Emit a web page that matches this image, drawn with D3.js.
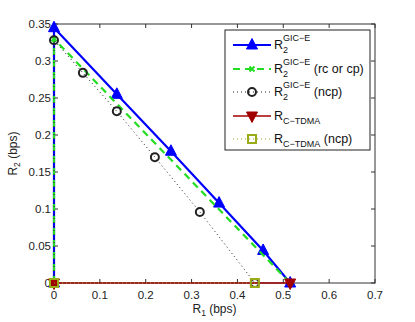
<!DOCTYPE html>
<html>
<head>
<meta charset="utf-8">
<script src="https://cdn.jsdelivr.net/npm/d3@7"></script>
<style>
  body { margin: 0; background: #fff; }
  svg text { font-family: "Liberation Sans", Arial, sans-serif; }
</style>
</head>
<body>
<div class="chart"></div>
<script>
// rate region curves
const xTicks = [0, 0.1, 0.2, 0.3, 0.4, 0.5, 0.6, 0.7];
const yTicks = [0, 0.05, 0.1, 0.15, 0.2, 0.25, 0.3, 0.35];

const gicR1 = [0, 0, 0.137, 0.255, 0.36, 0.456, 0.515];
const gicR2 = [0, 0.345, 0.255, 0.178, 0.108, 0.044, 0];

const rcR1 = [0, 0, 0.515];
const rcR2 = [0, 0.33, 0];

const ncpR1 = [0, 0, 0.063, 0.137, 0.22, 0.318, 0.438];
const ncpR2 = [0, 0.328, 0.284, 0.232, 0.17, 0.096, 0];

const tdmaR1 = [0, 0.515];
const tdmaR2 = [0, 0];

const tdmaNcpR1 = [0, 0.438];
const tdmaNcpR2 = [0, 0];

const w = 415, h = 322;
const margin = { left: 54, right: 40, top: 24, bottom: 39 };

const svg = d3.select(".chart").append("svg").attr("width", w).attr("height", h);

const xScale = d3.scaleLinear().domain([0, 0.7]).range([margin.left, w - margin.right]);
const yScale = d3.scaleLinear().domain([0, 0.35]).range([h - margin.bottom, margin.top]);

const zip = (a, b) => a.map((v, i) => [v, b[i]]);
const line = d3.line().x(d => xScale(d[0])).y(d => yScale(d[1]));

// marker drawing
function marker(g, type, x, y, color) {
  if (type === "tri") {
    g.append("path").attr("d", `M${x},${y - 6.5}L${x + 5.5},${y + 4}L${x - 5.5},${y + 4}Z`)
      .attr("fill", color).attr("stroke", color).attr("stroke-width", 1);
  } else if (type === "triDown") {
    g.append("path").attr("d", `M${x},${y + 6.5}L${x + 5.5},${y - 4}L${x - 5.5},${y - 4}Z`)
      .attr("fill", color).attr("stroke", color).attr("stroke-width", 1);
  } else if (type === "circle") {
    g.append("circle").attr("cx", x).attr("cy", y).attr("r", 4)
      .attr("fill", "none").attr("stroke", color).attr("stroke-width", 2);
  } else if (type === "square") {
    g.append("rect").attr("x", x - 4).attr("y", y - 4).attr("width", 8).attr("height", 8)
      .attr("fill", "none").attr("stroke", color).attr("stroke-width", 2);
  } else if (type === "x") {
    g.append("path").attr("d", `M${x - 2.5},${y - 2.5}L${x + 2.5},${y + 2.5}M${x - 2.5},${y + 2.5}L${x + 2.5},${y - 2.5}`)
      .attr("stroke", color).attr("stroke-width", 2);
  }
}

const series = [
  { r1: gicR1, r2: gicR2, color: "#0000ff", width: 2.2, dash: null, mk: "tri" },
  { r1: rcR1, r2: rcR2, color: "#22dd22", width: 2.2, dash: "7,5", mk: "x" },
  { r1: ncpR1, r2: ncpR2, color: "#222222", width: 1, dash: "1,3", mk: "circle" },
  { r1: tdmaR1, r2: tdmaR2, color: "#a00000", width: 1.6, dash: null, mk: "triDown" },
  { r1: tdmaNcpR1, r2: tdmaNcpR2, color: "#9aab18", width: 1, dash: "1,3", mk: "square" }
];

// axis box + ticks
const axisColor = "#333";
const tickLen = 4;
const bx0 = xScale(0), bx1 = xScale(0.7), by0 = yScale(0), by1 = yScale(0.35);

svg.append("rect").attr("x", bx0).attr("y", by1).attr("width", bx1 - bx0).attr("height", by0 - by1)
  .attr("fill", "none").attr("stroke", axisColor).attr("stroke-width", 1);

xTicks.forEach(t => {
  const x = xScale(t);
  svg.append("line").attr("x1", x).attr("x2", x).attr("y1", by0).attr("y2", by0 - tickLen).attr("stroke", axisColor);
  svg.append("line").attr("x1", x).attr("x2", x).attr("y1", by1).attr("y2", by1 + tickLen).attr("stroke", axisColor);
  svg.append("text").attr("x", x).attr("y", by0 + 16).attr("text-anchor", "middle")
    .attr("font-size", 11.5).attr("fill", "#222").text(t === 0 ? "0" : d3.format(".1f")(t));
});
yTicks.forEach(t => {
  const y = yScale(t);
  svg.append("line").attr("x1", bx0).attr("x2", bx0 + tickLen).attr("y1", y).attr("y2", y).attr("stroke", axisColor);
  svg.append("line").attr("x1", bx1).attr("x2", bx1 - tickLen).attr("y1", y).attr("y2", y).attr("stroke", axisColor);
  svg.append("text").attr("x", bx0 - 3).attr("y", y + 4).attr("text-anchor", "end")
    .attr("font-size", 11.5).attr("fill", "#222").text(t === 0 ? "0" : String(t));
});

// curves
const plot = svg.append("g");
series.forEach(s => {
  const pts = zip(s.r1, s.r2);
  plot.append("path").attr("d", line(pts)).attr("fill", "none")
    .attr("stroke", s.color).attr("stroke-width", s.width)
    .attr("stroke-dasharray", s.dash);
  pts.forEach(p => marker(plot, s.mk, xScale(p[0]), yScale(p[1]), s.color));
});

// axis labels
const xl = svg.append("text").attr("x", (bx0 + bx1) / 2).attr("y", 313)
  .attr("text-anchor", "middle").attr("font-size", 12).attr("fill", "#222");
xl.append("tspan").text("R");
xl.append("tspan").attr("font-size", 8.5).attr("dy", 3).text("1");
xl.append("tspan").attr("dy", -3).text(" (bps)");

const yl = svg.append("text").attr("transform", `translate(17,${(by0 + by1) / 2}) rotate(-90)`)
  .attr("text-anchor", "middle").attr("font-size", 12).attr("fill", "#222");
yl.append("tspan").text("R");
yl.append("tspan").attr("font-size", 8.5).attr("dy", 3).text("2");
yl.append("tspan").attr("dy", -3).text(" (bps)");

// legend
const lg = svg.append("g");
lg.append("rect").attr("x", 225).attr("y", 30).attr("width", 145).attr("height", 120)
  .attr("fill", "#fff").attr("stroke", "#222").attr("stroke-width", 1);

const legendY = [45, 69, 92, 116, 139];
series.forEach((s, i) => {
  const y = legendY[i];
  lg.append("line").attr("x1", 233).attr("x2", 271).attr("y1", y).attr("y2", y)
    .attr("stroke", s.color).attr("stroke-width", s.width).attr("stroke-dasharray", s.dash);
  marker(lg, s.mk, 252, y, s.color);
  const t = lg.append("text").attr("x", 274).attr("y", y + 4).attr("font-size", 12.5).attr("fill", "#111");
  if (i < 3) {
    t.append("tspan").text("R");
    t.append("tspan").attr("font-size", 9).attr("dy", 4).text("2");
    t.append("tspan").attr("font-size", 9).attr("dx", -5).attr("dy", -12).text("GIC\u2212E");
    const extra = i === 1 ? " (rc or cp)" : i === 2 ? " (ncp)" : "";
    t.append("tspan").attr("dy", 8).text(extra);
  } else {
    t.append("tspan").text("R");
    t.append("tspan").attr("font-size", 9).attr("dy", 4).text("C\u2212TDMA");
    t.append("tspan").attr("dy", -4).text(i === 4 ? " (ncp)" : "");
  }
});
</script>
</body>
</html>
